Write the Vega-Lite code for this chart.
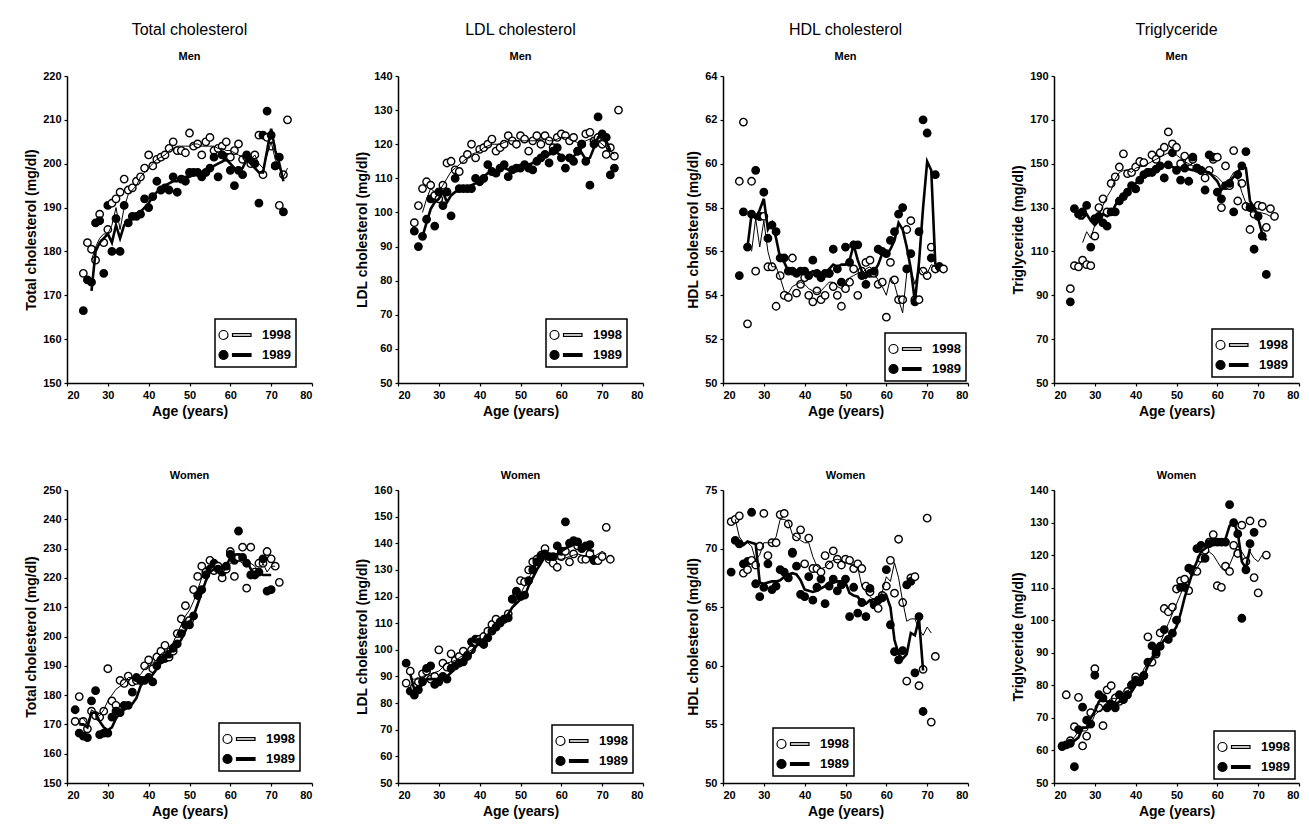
{
"$schema": "https://vega.github.io/schema/vega-lite/v6.json",
"background": "white",
"padding": {"left": 24, "top": 22, "right": 2, "bottom": 2},
"config": {
  "font": "Liberation Sans",
  "view": {"stroke": null},
  "axis": {"grid": false, "domainColor": "black", "domainWidth": 1.5, "tickColor": "black", "tickSize": 3, "tickWidth": 1.2, "labelFontSize": 11, "labelFontWeight": "bold", "labelColor": "black", "labelOverlap": false, "titleFontSize": 14, "titleFontWeight": "bold", "titleColor": "black", "labelPadding": 3},
  "title": {"fontSize": 16, "fontWeight": "normal", "color": "black", "subtitleFontSize": 11, "subtitleFontWeight": "bold", "subtitleColor": "black", "subtitlePadding": 13, "offset": 8, "anchor": "middle"},
  "legend": {"orient": "bottom-right", "offset": 10, "strokeColor": "black", "strokeWidth": 1.5, "fillColor": "white", "padding": 5, "symbolType": "M-0.3,0 A0.45,0.45 0 1,0 -1.2,0 A0.45,0.45 0 1,0 -0.3,0 Z M0.15,-0.13 L2.0,-0.13 L2.0,0.13 L0.15,0.13 Z", "symbolSize": 400, "symbolStrokeColor": "black", "symbolStrokeWidth": 1.2, "labelFontSize": 13, "labelFontWeight": "bold", "labelColor": "black", "labelOffset": 20, "rowPadding": 2}
},
"datasets": {
"tcm": [
{"a":24,"1998":175,"1989":166.5},{"a":25,"1998":182,"1989":173.5},
{"a":26,"1998":180.5,"1989":173,"L1998":178,"L1989":171},{"a":27,"1998":178,"1989":186.5,"L1998":181,"L1989":180},
{"a":28,"1998":188.5,"1989":187,"L1998":183,"L1989":182},{"a":29,"1998":182,"1989":175,"L1998":184,"L1989":183},
{"a":30,"1998":185,"1989":190.5,"L1998":184,"L1989":184},{"a":31,"1998":191,"1989":180,"L1998":186,"L1989":182},
{"a":32,"1998":192,"1989":187.5,"L1998":190,"L1989":186},{"a":33,"1998":193.5,"1989":180,"L1998":185,"L1989":183},
{"a":34,"1998":196.5,"1989":190.5,"L1998":190,"L1989":186},{"a":35,"1998":194,"1989":186.5,"L1998":193,"L1989":187},
{"a":36,"1998":194.5,"1989":188,"L1998":194,"L1989":187.5},{"a":37,"1998":196,"1989":188,"L1998":195,"L1989":188},
{"a":38,"1998":197,"1989":188.5,"L1998":197,"L1989":189},{"a":39,"1998":199,"1989":192,"L1998":198,"L1989":190},
{"a":40,"1998":202,"1989":190,"L1998":199,"L1989":191},{"a":41,"1998":199.5,"1989":192.5,"L1998":200,"L1989":192.5},
{"a":42,"1998":201,"1989":196,"L1998":201,"L1989":193.5},{"a":43,"1998":201.5,"1989":194,"L1998":201.5,"L1989":194.5},
{"a":44,"1998":202,"1989":194.5,"L1998":202,"L1989":195},{"a":45,"1998":203.5,"1989":194,"L1998":203,"L1989":195.5},
{"a":46,"1998":205,"1989":197,"L1998":203.5,"L1989":196},{"a":47,"1998":203,"1989":193.5,"L1998":204,"L1989":196},
{"a":48,"1998":203,"1989":196.5,"L1998":204,"L1989":196.5},{"a":49,"1998":202.5,"1989":196,"L1998":204,"L1989":197},
{"a":50,"1998":207,"1989":198,"L1998":204,"L1989":197},{"a":51,"1998":204,"1989":198,"L1998":204.5,"L1989":197.5},
{"a":52,"1998":204.5,"1989":198,"L1998":204.5,"L1989":198},{"a":53,"1998":202,"1989":197,"L1998":204,"L1989":198},
{"a":54,"1998":205,"1989":198,"L1998":204,"L1989":198.5},{"a":55,"1998":206,"1989":199,"L1998":204,"L1989":199},
{"a":56,"1998":203,"1989":201.5,"L1998":204,"L1989":199.5},{"a":57,"1998":203.5,"1989":197,"L1998":203.5,"L1989":200},
{"a":58,"1998":204,"1989":202,"L1998":203.5,"L1989":200.5},{"a":59,"1998":205,"1989":201.5,"L1998":203,"L1989":201},
{"a":60,"1998":201.5,"1989":198.5,"L1998":203,"L1989":200},{"a":61,"1998":203,"1989":195,"L1998":202.5,"L1989":199},
{"a":62,"1998":204.5,"1989":198.5,"L1998":202,"L1989":198},{"a":63,"1998":201,"1989":197.5,"L1998":201.5,"L1989":199},
{"a":64,"1998":201.5,"1989":202,"L1998":201,"L1989":201},{"a":65,"1998":200,"1989":201,"L1998":201,"L1989":200},
{"a":66,"1998":202,"1989":200,"L1998":202,"L1989":199},{"a":67,"1998":206.5,"1989":191,"L1998":200,"L1989":198},
{"a":68,"1998":197.5,"1989":206.5,"L1998":199,"L1989":198},{"a":69,"1998":206,"1989":212,"L1998":202,"L1989":203},
{"a":70,"1998":204,"1989":206.5,"L1998":205,"L1989":208},{"a":71,"1998":199.5,"1989":199.5,"L1998":201,"L1989":203},
{"a":72,"1998":190.5,"1989":201.5,"L1998":199,"L1989":200},{"a":73,"1998":197.5,"1989":189,"L1998":197,"L1989":196},
{"a":74,"1998":210,"L1998":199}
],
"ldlm": [
{"a":24,"1998":97,"1989":94.5},{"a":25,"1998":102,"1989":90},
{"a":26,"1998":107,"1989":93,"L1998":100,"L1989":93},{"a":27,"1998":109,"1989":98,"L1998":104,"L1989":97},
{"a":28,"1998":108,"1989":104,"L1998":107,"L1989":101},{"a":29,"1998":105,"1989":96,"L1998":106,"L1989":103},
{"a":30,"1998":104,"1989":106,"L1998":106,"L1989":104},{"a":31,"1998":108,"1989":102,"L1998":108,"L1989":106},
{"a":32,"1998":114.5,"1989":106,"L1998":110,"L1989":103},{"a":33,"1998":115,"1989":99,"L1998":112,"L1989":105},
{"a":34,"1998":112.5,"1989":110,"L1998":113,"L1989":106},{"a":35,"1998":112,"1989":107,"L1998":114,"L1989":106.5},
{"a":36,"1998":115.5,"1989":107,"L1998":115,"L1989":107},{"a":37,"1998":117,"1989":107,"L1998":116,"L1989":107.5},
{"a":38,"1998":120,"1989":107,"L1998":117,"L1989":108},{"a":39,"1998":116,"1989":110,"L1998":117.5,"L1989":108.5},
{"a":40,"1998":118.5,"1989":109,"L1998":118,"L1989":109.5},{"a":41,"1998":119,"1989":110,"L1998":119,"L1989":110.5},
{"a":42,"1998":120,"1989":114,"L1998":119.5,"L1989":111.5},{"a":43,"1998":121.5,"1989":112,"L1998":120,"L1989":112},
{"a":44,"1998":118,"1989":111.5,"L1998":120,"L1989":112},{"a":45,"1998":119,"1989":113,"L1998":120,"L1989":112.5},
{"a":46,"1998":120,"1989":114,"L1998":120.5,"L1989":113},{"a":47,"1998":122.5,"1989":110.5,"L1998":121,"L1989":112.5},
{"a":48,"1998":121,"1989":112.5,"L1998":121,"L1989":112.5},{"a":49,"1998":120,"1989":113,"L1998":121,"L1989":113},
{"a":50,"1998":122.5,"1989":113,"L1998":121,"L1989":113},{"a":51,"1998":121.5,"1989":114,"L1998":121,"L1989":113.5},
{"a":52,"1998":118,"1989":113,"L1998":121,"L1989":114},{"a":53,"1998":121,"1989":112.5,"L1998":121,"L1989":114.5},
{"a":54,"1998":122.5,"1989":115,"L1998":121,"L1989":115},{"a":55,"1998":120,"1989":116,"L1998":121.5,"L1989":116},
{"a":56,"1998":122.5,"1989":117,"L1998":121.5,"L1989":116.5},{"a":57,"1998":121,"1989":114.5,"L1998":121,"L1989":117},
{"a":58,"1998":119,"1989":118,"L1998":121,"L1989":117.5},{"a":59,"1998":122,"1989":119,"L1998":121.5,"L1989":117.5},
{"a":60,"1998":123,"1989":116,"L1998":122,"L1989":116.5},{"a":61,"1998":122.5,"1989":113,"L1998":122,"L1989":116},
{"a":62,"1998":121,"1989":116,"L1998":121.5,"L1989":116},{"a":63,"1998":122,"1989":115,"L1998":121,"L1989":116.5},
{"a":64,"1998":118,"1989":118,"L1998":120.5,"L1989":117.5},{"a":65,"1998":120,"1989":120,"L1998":120.5,"L1989":117.5},
{"a":66,"1998":123,"1989":115,"L1998":121,"L1989":115.5},{"a":67,"1998":123.5,"1989":108,"L1998":121.5,"L1989":116},
{"a":68,"1998":121,"1989":120,"L1998":121.5,"L1989":119},{"a":69,"1998":122,"1989":128,"L1998":121,"L1989":122},
{"a":70,"1998":120,"1989":123,"L1998":120,"L1989":122},{"a":71,"1998":117,"1989":122,"L1998":119,"L1989":121},
{"a":72,"1998":119,"1989":111,"L1998":118,"L1989":118},{"a":73,"1998":116.5,"1989":113,"L1998":117},
{"a":74,"1998":130}
],
"hdlm": [
{"a":24,"1998":59.2,"1989":54.9},{"a":25,"1998":61.9,"1989":57.8},
{"a":26,"1998":52.7,"1989":56.2,"L1989":56.2},{"a":27,"1998":59.2,"1989":57.7,"L1998":56.0,"L1989":57.7},
{"a":28,"1998":55.1,"1989":59.7,"L1998":57.5,"L1989":57.5},{"a":29,"1998":57.6,"1989":57.6,"L1998":56.2,"L1989":57.9},
{"a":30,"1998":57.6,"1989":58.7,"L1998":57.4,"L1989":58.4},{"a":31,"1998":55.3,"1989":56.6,"L1998":56.0,"L1989":57.0},
{"a":32,"1998":55.3,"1989":57.2,"L1998":55.3,"L1989":57.3},{"a":33,"1998":53.5,"1989":56.9,"L1998":55.3,"L1989":56.6},
{"a":34,"1998":54.9,"1989":55.7,"L1998":54.8,"L1989":55.7},{"a":35,"1998":54.0,"1989":55.7,"L1998":54.2,"L1989":55.5},
{"a":36,"1998":53.9,"1989":55.1,"L1998":54.1,"L1989":55.1},{"a":37,"1998":55.7,"1989":55.1,"L1998":54.4,"L1989":55.1},
{"a":38,"1998":54.1,"1989":55.0,"L1998":54.5,"L1989":55.0},{"a":39,"1998":54.5,"1989":55.1,"L1998":54.6,"L1989":55.0},
{"a":40,"1998":54.8,"1989":55.1,"L1998":54.5,"L1989":55.0},{"a":41,"1998":54.0,"1989":54.9,"L1998":54.3,"L1989":55.0},
{"a":42,"1998":53.7,"1989":55.6,"L1998":54.2,"L1989":55.1},{"a":43,"1998":54.2,"1989":55.0,"L1998":54.1,"L1989":55.0},
{"a":44,"1998":53.8,"1989":54.8,"L1998":54.2,"L1989":55.0},{"a":45,"1998":54.0,"1989":55.0,"L1998":54.4,"L1989":55.0},
{"a":46,"1998":55.0,"1989":55.0,"L1998":54.6,"L1989":55.2},{"a":47,"1998":54.4,"1989":56.1,"L1998":54.6,"L1989":55.4},
{"a":48,"1998":54.0,"1989":55.2,"L1998":54.4,"L1989":55.3},{"a":49,"1998":53.5,"1989":54.6,"L1998":54.3,"L1989":55.4},
{"a":50,"1998":54.3,"1989":56.2,"L1998":54.5,"L1989":55.4},{"a":51,"1998":54.6,"1989":55.5,"L1998":54.8,"L1989":55.6},
{"a":52,"1998":55.2,"1989":56.3,"L1998":54.9,"L1989":56.3},{"a":53,"1998":54.0,"1989":56.3,"L1998":55.0,"L1989":55.6},
{"a":54,"1998":55.1,"1989":54.9,"L1998":55.0,"L1989":55.1},{"a":55,"1998":55.5,"1989":54.5,"L1998":55.2,"L1989":54.8},
{"a":56,"1998":55.6,"1989":55.0,"L1998":55.3,"L1989":55.0},{"a":57,"1998":55.0,"1989":55.1,"L1998":55.0,"L1989":55.1},
{"a":58,"1998":54.5,"1989":56.1,"L1998":54.7,"L1989":55.4},{"a":59,"1998":54.6,"1989":56.0,"L1998":54.4,"L1989":55.9},
{"a":60,"1998":53.0,"1989":55.9,"L1998":54.0,"L1989":55.8},{"a":61,"1998":55.5,"1989":56.5,"L1998":54.8,"L1989":56.1},
{"a":62,"1998":54.7,"1989":56.9,"L1998":54.5,"L1989":56.5},{"a":63,"1998":53.8,"1989":57.7,"L1998":53.8,"L1989":57.3},
{"a":64,"1998":53.8,"1989":58.0,"L1998":53.2,"L1989":57.0},{"a":65,"1998":57.0,"1989":55.2,"L1998":55.0,"L1989":56.2},
{"a":66,"1998":57.4,"1989":55.9,"L1998":55.2,"L1989":55.2},{"a":67,"1998":53.8,"1989":53.7,"L1998":54.5,"L1989":53.7},
{"a":68,"1998":53.8,"1989":56.9,"L1998":55.3,"L1989":55.5},{"a":69,"1998":55.1,"1989":62.0,"L1998":55.0,"L1989":58.0},
{"a":70,"1998":54.9,"1989":61.4,"L1998":55.0,"L1989":60.1},{"a":71,"1998":56.2,"1989":55.7,"L1998":55.4,"L1989":59.7},
{"a":72,"1998":55.2,"1989":59.5,"L1998":55.3,"L1989":55.4},{"a":73,"1998":55.3,"1989":55.3},
{"a":74,"1998":55.2}
],
"tgm": [
{"a":24,"1998":93,"1989":87},{"a":25,"1998":103.5,"1989":129.5},
{"a":26,"1998":103,"1989":127,"L1989":125},{"a":27,"1998":106,"1989":128,"L1998":114,"L1989":125},
{"a":28,"1998":104,"1989":131,"L1998":119,"L1989":127},{"a":29,"1998":103.5,"1989":112,"L1998":116,"L1989":124},
{"a":30,"1998":117,"1989":125,"L1998":122,"L1989":122},{"a":31,"1998":130,"1989":126,"L1998":126,"L1989":124},
{"a":32,"1998":134,"1989":123,"L1998":131,"L1989":127},{"a":33,"1998":128,"1989":121.5,"L1998":135,"L1989":126},
{"a":34,"1998":141,"1989":128,"L1998":138,"L1989":127},{"a":35,"1998":144,"1989":128,"L1998":143,"L1989":131},
{"a":36,"1998":148.5,"1989":133,"L1998":146,"L1989":134},{"a":37,"1998":154.5,"1989":135,"L1998":147,"L1989":136},
{"a":38,"1998":145.5,"1989":137,"L1998":147,"L1989":138},{"a":39,"1998":146,"1989":140,"L1998":146,"L1989":139.5},
{"a":40,"1998":148.5,"1989":138.5,"L1998":148,"L1989":141},{"a":41,"1998":151,"1989":142.5,"L1998":148.5,"L1989":143},
{"a":42,"1998":150.5,"1989":145,"L1998":149,"L1989":145},{"a":43,"1998":146,"1989":146,"L1998":150,"L1989":146},
{"a":44,"1998":154,"1989":146,"L1998":151,"L1989":147},{"a":45,"1998":152,"1989":147.5,"L1998":152,"L1989":148},
{"a":46,"1998":155,"1989":149,"L1998":153,"L1989":149},{"a":47,"1998":157.5,"1989":143.5,"L1998":154,"L1989":149},
{"a":48,"1998":164.5,"1989":149.5,"L1998":155,"L1989":149},{"a":49,"1998":159,"1989":155,"L1998":154.5,"L1989":148.5},
{"a":50,"1998":157.5,"1989":147,"L1998":154,"L1989":148},{"a":51,"1998":150,"1989":142.5,"L1998":152.5,"L1989":148},
{"a":52,"1998":153.5,"1989":148,"L1998":151,"L1989":148},{"a":53,"1998":151,"1989":142,"L1998":150,"L1989":147.5},
{"a":54,"1998":152,"1989":153,"L1998":149,"L1989":147},{"a":55,"1998":148,"1989":148,"L1998":148.5,"L1989":147},
{"a":56,"1998":147,"1989":147,"L1998":148,"L1989":147},{"a":57,"1998":143.5,"1989":138,"L1998":147,"L1989":146.5},
{"a":58,"1998":147,"1989":154,"L1998":146,"L1989":146},{"a":59,"1998":152,"1989":153,"L1998":145,"L1989":144},
{"a":60,"1998":153,"1989":137,"L1998":144,"L1989":142},{"a":61,"1998":130,"1989":134,"L1998":142,"L1989":138},
{"a":62,"1998":149,"1989":140,"L1998":140,"L1989":140},{"a":63,"1998":140,"1989":141,"L1998":143,"L1989":142},
{"a":64,"1998":156,"1989":128,"L1998":146,"L1989":144},{"a":65,"1998":133,"1989":145,"L1998":143,"L1989":146},
{"a":66,"1998":141,"1989":149,"L1998":137,"L1989":149},{"a":67,"1998":130.5,"1989":155.5,"L1998":132,"L1989":148},
{"a":68,"1998":120,"1989":130,"L1998":128,"L1989":133},{"a":69,"1998":127,"1989":111,"L1998":128,"L1989":130},
{"a":70,"1998":131,"1989":126,"L1998":128,"L1989":125},{"a":71,"1998":130.5,"1989":117,"L1998":127.5,"L1989":118},
{"a":72,"1998":121,"1989":99.5,"L1998":127,"L1989":115},{"a":73,"1998":129.5,"L1998":126},
{"a":74,"1998":126}
],
"tcw": [
{"a":22,"1998":171,"1989":175},{"a":23,"1998":179.5,"1989":167,"L1998":172,"L1989":170},
{"a":24,"1998":171,"1989":166,"L1998":172,"L1989":170},{"a":25,"1998":168.5,"1989":165.5,"L1998":170,"L1989":169},
{"a":26,"1998":174.5,"1989":178,"L1998":175,"L1989":174},{"a":27,"1998":173,"1989":181.5,"L1998":174,"L1989":174},
{"a":28,"1998":172.5,"1989":166.5,"L1998":173,"L1989":171},{"a":29,"1998":174.5,"1989":167,"L1998":175,"L1989":169},
{"a":30,"1998":189,"1989":167,"L1998":178,"L1989":168},{"a":31,"1998":178,"1989":172.5,"L1998":180,"L1989":169},
{"a":32,"1998":176.5,"1989":174.5,"L1998":182,"L1989":172},{"a":33,"1998":185,"1989":174,"L1998":183,"L1989":174},
{"a":34,"1998":184,"1989":176.5,"L1998":184,"L1989":175},{"a":35,"1998":186.5,"1989":176.5,"L1998":186,"L1989":176},
{"a":36,"1998":184.5,"1989":181,"L1998":186,"L1989":177},{"a":37,"1998":185,"1989":186,"L1998":186,"L1989":179},
{"a":38,"1998":185,"1989":185,"L1998":187,"L1989":183},{"a":39,"1998":190,"1989":185,"L1998":189,"L1989":185},
{"a":40,"1998":192,"1989":186,"L1998":190,"L1989":186},{"a":41,"1998":189,"1989":184.5,"L1998":191,"L1989":187},
{"a":42,"1998":193,"1989":190,"L1998":192,"L1989":189},{"a":43,"1998":195,"1989":192,"L1998":194,"L1989":191},
{"a":44,"1998":197,"1989":192.5,"L1998":195,"L1989":192},{"a":45,"1998":193,"1989":194,"L1998":196,"L1989":194},
{"a":46,"1998":195,"1989":196,"L1998":198,"L1989":196},{"a":47,"1998":201,"1989":197.5,"L1998":201,"L1989":197},
{"a":48,"1998":206,"1989":201,"L1998":204,"L1989":199},{"a":49,"1998":210.5,"1989":204,"L1998":207,"L1989":202},
{"a":50,"1998":205.5,"1989":204,"L1998":209,"L1989":205},{"a":51,"1998":216,"1989":207,"L1998":212,"L1989":207},
{"a":52,"1998":220.5,"1989":214,"L1998":216,"L1989":211},{"a":53,"1998":224,"1989":216,"L1998":220,"L1989":215},
{"a":54,"1998":222,"1989":221,"L1998":222,"L1989":219},{"a":55,"1998":226,"1989":223,"L1998":223,"L1989":222},
{"a":56,"1998":222.5,"1989":225,"L1998":224,"L1989":223},{"a":57,"1998":224,"1989":223,"L1998":223,"L1989":223},
{"a":58,"1998":220,"1989":222,"L1998":222,"L1989":223},{"a":59,"1998":223,"1989":224,"L1998":223,"L1989":224},
{"a":60,"1998":229,"1989":228,"L1998":225,"L1989":227},{"a":61,"1998":220.5,"1989":226,"L1998":226,"L1989":228},
{"a":62,"1998":227,"1989":236,"L1998":226,"L1989":228},{"a":63,"1998":230.5,"1989":227,"L1998":225,"L1989":227},
{"a":64,"1998":216.5,"1989":225,"L1998":226,"L1989":226},{"a":65,"1998":230.5,"1989":221,"L1998":225,"L1989":223},
{"a":66,"1998":222,"1989":221,"L1998":224,"L1989":221},{"a":67,"1998":225,"1989":222,"L1998":222,"L1989":222},
{"a":68,"1998":225,"1989":226.5,"L1998":225,"L1989":221},{"a":69,"1998":229,"1989":215.5,"L1998":222,"L1989":221},
{"a":70,"1998":226.5,"1989":216,"L1998":224,"L1989":221},{"a":71,"1998":224,"L1998":224},
{"a":72,"1998":218.5}
],
"ldlw": [
{"a":22,"1998":87.5,"1989":95},{"a":23,"1998":92,"1989":84.5,"L1998":89,"L1989":91},
{"a":24,"1998":86,"1989":83,"L1998":89,"L1989":85},{"a":25,"1998":88,"1989":85,"L1998":89,"L1989":85},
{"a":26,"1998":91,"1989":88,"L1998":90,"L1989":87},{"a":27,"1998":92,"1989":93,"L1998":90.5,"L1989":89},
{"a":28,"1998":89,"1989":94,"L1998":91,"L1989":89},{"a":29,"1998":90,"1989":87,"L1998":91.5,"L1989":89},
{"a":30,"1998":100,"1989":88,"L1998":92,"L1989":89},{"a":31,"1998":95,"1989":90,"L1998":93.5,"L1989":89},
{"a":32,"1998":93.5,"1989":89,"L1998":95,"L1989":90},{"a":33,"1998":98.5,"1989":93,"L1998":95.5,"L1989":91.5},
{"a":34,"1998":96,"1989":94,"L1998":96,"L1989":93},{"a":35,"1998":97.5,"1989":95,"L1998":97,"L1989":94},
{"a":36,"1998":99.5,"1989":95.5,"L1998":98,"L1989":95},{"a":37,"1998":98,"1989":97.5,"L1998":99,"L1989":97},
{"a":38,"1998":100,"1989":103,"L1998":100,"L1989":99},{"a":39,"1998":103,"1989":104,"L1998":101.5,"L1989":101},
{"a":40,"1998":104,"1989":103,"L1998":103,"L1989":103},{"a":41,"1998":105,"1989":102,"L1998":104.5,"L1989":104},
{"a":42,"1998":107,"1989":104.5,"L1998":106,"L1989":105},{"a":43,"1998":109.5,"1989":107,"L1998":107.5,"L1989":106.5},
{"a":44,"1998":111.5,"1989":108.5,"L1998":109,"L1989":108},{"a":45,"1998":110.5,"1989":110,"L1998":110,"L1989":109.5},
{"a":46,"1998":111.5,"1989":111.5,"L1998":111,"L1989":111},{"a":47,"1998":113.5,"1989":112,"L1998":113.5,"L1989":113.5},
{"a":48,"1998":119,"1989":119,"L1998":116,"L1989":116},{"a":49,"1998":121.5,"1989":122,"L1998":118.5,"L1989":117.5},
{"a":50,"1998":126,"1989":120,"L1998":121,"L1989":119},{"a":51,"1998":125.5,"1989":120.5,"L1998":124,"L1989":120},
{"a":52,"1998":130,"1989":126,"L1998":127,"L1989":124},{"a":53,"1998":133,"1989":130,"L1998":129.5,"L1989":127},
{"a":54,"1998":134,"1989":133,"L1998":132,"L1989":130},{"a":55,"1998":135.5,"1989":135,"L1998":133.5,"L1989":132.5},
{"a":56,"1998":138,"1989":136,"L1998":135,"L1989":135},{"a":57,"1998":134,"1989":135,"L1998":134.5,"L1989":135},
{"a":58,"1998":132.5,"1989":135,"L1998":134,"L1989":135},{"a":59,"1998":131,"1989":139,"L1998":134,"L1989":136},
{"a":60,"1998":135,"1989":137,"L1998":134,"L1989":137},{"a":61,"1998":137,"1989":148,"L1998":134.5,"L1989":138},
{"a":62,"1998":133,"1989":140,"L1998":135,"L1989":139},{"a":63,"1998":136,"1989":141,"L1998":135.5,"L1989":139.5},
{"a":64,"1998":139,"1989":140.5,"L1998":136,"L1989":140},{"a":65,"1998":134,"1989":138,"L1998":135.5,"L1989":139},
{"a":66,"1998":134,"1989":139,"L1998":135,"L1989":138},{"a":67,"1998":136,"1989":139.5,"L1998":135,"L1989":137.5},
{"a":68,"1998":134,"1989":133.5,"L1998":135,"L1989":137},{"a":69,"1998":133.5,"L1998":136},
{"a":70,"1998":135,"L1998":137},{"a":71,"1998":146,"L1998":136},
{"a":72,"1998":134}
],
"hdlw": [
{"a":22,"1998":72.3,"1989":68.0},{"a":23,"1998":72.5,"1989":70.7,"L1998":72.5,"L1989":70.8},
{"a":24,"1998":72.8,"1989":70.4,"L1998":71,"L1989":70.4},{"a":25,"1998":67.9,"1989":68.7,"L1998":70.5,"L1989":70.3},
{"a":26,"1998":68.2,"1989":68.9,"L1998":70.5,"L1989":70.6},{"a":27,"1998":69.0,"1989":73.1,"L1998":70.2,"L1989":70.5},
{"a":28,"1998":68.6,"1989":67.0,"L1998":69,"L1989":70.4},{"a":29,"1998":70.2,"1989":65.9,"L1998":69.5,"L1989":67.1},
{"a":30,"1998":73.0,"1989":66.7,"L1998":70.5,"L1989":67.0},{"a":31,"1998":69.4,"1989":68.7,"L1998":70.5,"L1989":67.1},
{"a":32,"1998":70.5,"1989":66.5,"L1998":70.5,"L1989":67.2},{"a":33,"1998":70.5,"1989":66.8,"L1998":71,"L1989":67.2},
{"a":34,"1998":72.9,"1989":68.2,"L1998":72.5,"L1989":67.3},{"a":35,"1998":73.0,"1989":68.0,"L1998":72.5,"L1989":67.6},
{"a":36,"1998":72.1,"1989":67.5,"L1998":72.3,"L1989":67.8},{"a":37,"1998":69.7,"1989":69.6,"L1998":71.2,"L1989":67.9},
{"a":38,"1998":71.0,"1989":68.5,"L1998":71,"L1989":67.8},{"a":39,"1998":71.6,"1989":66.1,"L1998":70.7,"L1989":67.3},
{"a":40,"1998":68.7,"1989":65.9,"L1998":70.5,"L1989":66.5},{"a":41,"1998":70.9,"1989":67.6,"L1998":70.5,"L1989":66.4},
{"a":42,"1998":68.3,"1989":65.6,"L1998":69.3,"L1989":66.3},{"a":43,"1998":68.3,"1989":66.7,"L1998":68.5,"L1989":66.4},
{"a":44,"1998":68.0,"1989":67.4,"L1998":68.3,"L1989":66.6},{"a":45,"1998":69.4,"1989":65.3,"L1998":68.4,"L1989":66.8},
{"a":46,"1998":68.6,"1989":66.8,"L1998":68.8,"L1989":67.1},{"a":47,"1998":69.8,"1989":67.4,"L1998":69,"L1989":67.1},
{"a":48,"1998":69.1,"1989":66.4,"L1998":69.1,"L1989":67.2},{"a":49,"1998":68.6,"1989":66.9,"L1998":69,"L1989":67.2},
{"a":50,"1998":69.1,"1989":67.4,"L1998":68.8,"L1989":67.1},{"a":51,"1998":69.0,"1989":64.2,"L1998":68.7,"L1989":66.2},
{"a":52,"1998":68.3,"1989":66.7,"L1998":68.5,"L1989":66.0},{"a":53,"1998":68.7,"1989":64.5,"L1998":68.4,"L1989":65.9},
{"a":54,"1998":68.3,"1989":65.4,"L1998":66.8,"L1989":65.4},{"a":55,"1998":66.8,"1989":64.2,"L1998":66.3,"L1989":65.3},
{"a":56,"1998":66.3,"1989":66.6,"L1998":65.9,"L1989":65.6},{"a":57,"1998":65.4,"1989":65.2,"L1998":65.6,"L1989":65.4},
{"a":58,"1998":64.9,"1989":65.6,"L1998":65.7,"L1989":65.7},{"a":59,"1998":66.0,"1989":65.8,"L1998":66.3,"L1989":65.6},
{"a":60,"1998":66.8,"1989":68.2,"L1998":67.6,"L1989":66.0},{"a":61,"1998":69.0,"1989":63.5,"L1998":67.2,"L1989":65.0},
{"a":62,"1998":66.2,"1989":61.2,"L1998":68.8,"L1989":62.2},{"a":63,"1998":70.8,"1989":60.5,"L1998":67.5,"L1989":61.0},
{"a":64,"1998":65.4,"1989":61.3,"L1998":65.5,"L1989":60.6},{"a":65,"1998":58.7,"1989":66.9,"L1998":63.8,"L1989":61.0},
{"a":66,"1998":67.5,"1989":67.2,"L1998":64.0,"L1989":62.8},{"a":67,"1998":67.6,"1989":59.4,"L1998":64.0,"L1989":62.6},
{"a":68,"1998":58.3,"1989":64.2,"L1998":63.1,"L1989":64.0},{"a":69,"1998":59.7,"1989":56.1,"L1998":62.6,"L1989":59.6},
{"a":70,"1998":72.6,"L1998":63.3},{"a":71,"1998":55.2,"L1998":62.8},
{"a":72,"1998":60.8}
],
"tgw": [
{"a":22,"1998":61.4,"1989":61.2},{"a":23,"1998":77.1,"1989":61.7,"L1998":62,"L1989":62},
{"a":24,"1998":63,"1989":62.2,"L1998":63,"L1989":62},{"a":25,"1998":67.3,"1989":55,"L1998":64,"L1989":63},
{"a":26,"1998":76.3,"1989":66.4,"L1998":66,"L1989":64},{"a":27,"1998":61.4,"1989":73.3,"L1998":66,"L1989":67},
{"a":28,"1998":64.4,"1989":69.3,"L1998":66,"L1989":67},{"a":29,"1998":71.6,"1989":68.1,"L1998":68,"L1989":70},
{"a":30,"1998":85.1,"1989":83.1,"L1998":71,"L1989":72},{"a":31,"1998":73.1,"1989":77.1,"L1998":72,"L1989":75},
{"a":32,"1998":67.6,"1989":76.1,"L1998":73,"L1989":76},{"a":33,"1998":78.6,"1989":73.1,"L1998":75,"L1989":75},
{"a":34,"1998":79.9,"1989":74.3,"L1998":76,"L1989":74},{"a":35,"1998":76.1,"1989":73.1,"L1998":76,"L1989":74},
{"a":36,"1998":75.1,"1989":77.1,"L1998":76,"L1989":75},{"a":37,"1998":76,"1989":75.6,"L1998":77,"L1989":76},
{"a":38,"1998":78.1,"1989":77.1,"L1998":78,"L1989":77},{"a":39,"1998":80.1,"1989":80.1,"L1998":80,"L1989":78},
{"a":40,"1998":82.6,"1989":81.6,"L1998":81,"L1989":80},{"a":41,"1998":81.3,"1989":81,"L1998":82,"L1989":81},
{"a":42,"1998":83,"1989":83,"L1998":85,"L1989":83},{"a":43,"1998":94.9,"1989":87.1,"L1998":87,"L1989":86},
{"a":44,"1998":87.1,"1989":92.1,"L1998":89,"L1989":88},{"a":45,"1998":89.6,"1989":90.1,"L1998":91,"L1989":90},
{"a":46,"1998":96.1,"1989":92,"L1998":93,"L1989":92},{"a":47,"1998":103.6,"1989":97.1,"L1998":96,"L1989":94},
{"a":48,"1998":102.6,"1989":94.1,"L1998":99,"L1989":95},{"a":49,"1998":104,"1989":96,"L1998":102,"L1989":96},
{"a":50,"1998":109.6,"1989":100,"L1998":105,"L1989":98},{"a":51,"1998":112.1,"1989":110.1,"L1998":108,"L1989":102},
{"a":52,"1998":112.6,"1989":110.1,"L1998":111,"L1989":107},{"a":53,"1998":109.1,"1989":116,"L1998":112,"L1989":111},
{"a":54,"1998":115,"1989":115.5,"L1998":114,"L1989":115},{"a":55,"1998":115,"1989":122,"L1998":116,"L1989":118},
{"a":56,"1998":119,"1989":123,"L1998":118,"L1989":121},{"a":57,"1998":121.5,"1989":119,"L1998":120,"L1989":122},
{"a":58,"1998":124,"1989":123.5,"L1998":121,"L1989":123},{"a":59,"1998":126.3,"1989":124,"L1998":120,"L1989":124},
{"a":60,"1998":110.6,"1989":124,"L1998":118,"L1989":124},{"a":61,"1998":110.1,"1989":124,"L1998":116,"L1989":124},
{"a":62,"1998":116.6,"1989":124,"L1998":115,"L1989":125},{"a":63,"1998":115,"1989":135.5,"L1998":117,"L1989":129},
{"a":64,"1998":123,"1989":130,"L1998":120,"L1989":130},{"a":65,"1998":120.5,"1989":126.5,"L1998":123,"L1989":127},
{"a":66,"1998":129.2,"1989":100.6,"L1998":121,"L1989":118},{"a":67,"1998":118,"1989":115.5,"L1998":119,"L1989":116},
{"a":68,"1998":130.5,"1989":123.5,"L1998":121,"L1989":122},{"a":69,"1998":113.1,"1989":127,"L1998":119},
{"a":70,"1998":108.4,"L1998":118},{"a":71,"1998":129.8,"L1998":120},
{"a":72,"1998":120}
]
},
"vconcat": [
{
"hconcat": [
{"width": 245, "height": 307, "title": {"text": "Total cholesterol", "subtitle": "Men"}, "data": {"name": "tcm"},
 "encoding": {
  "x": {"field": "a", "type": "quantitative", "scale": {"domain": [20,80], "nice": false, "zero": false}, "axis": {"values": [20,30,40,50,60,70,80], "title": "Age (years)"}},
  "y": {"field": "v", "type": "quantitative", "scale": {"domain": [150,220], "nice": false, "zero": false}, "axis": {"values": [150,160,170,180,190,200,210,220], "title": "Total cholesterol (mg/dl)"}}},
 "layer": [
  {"transform": [{"fold": ["1998","1989"], "as": ["yr","v"]}, {"filter": "isValid(datum.v)"}],
   "mark": {"type": "point", "filled": true, "size": 55, "stroke": "black", "strokeWidth": 1.4, "opacity": 1},
   "encoding": {"fill": {"field": "yr", "type": "nominal", "scale": {"domain": ["1998","1989"], "range": ["white","black"]}, "legend": {"title": null, "offset": 16}}}},
  {"transform": [{"fold": ["L1998","L1989"], "as": ["ly","v"]}, {"filter": "isValid(datum.v)"}],
   "mark": {"type": "line", "color": "black"},
   "encoding": {"detail": {"field": "ly", "type": "nominal"}, "strokeWidth": {"field": "ly", "type": "nominal", "scale": {"domain": ["L1998","L1989"], "range": [1, 2.6]}, "legend": null}}}
 ]},
{"width": 245, "height": 307, "title": {"text": "LDL cholesterol", "subtitle": "Men"}, "data": {"name": "ldlm"},
 "encoding": {
  "x": {"field": "a", "type": "quantitative", "scale": {"domain": [20,80], "nice": false, "zero": false}, "axis": {"values": [20,30,40,50,60,70,80], "title": "Age (years)"}},
  "y": {"field": "v", "type": "quantitative", "scale": {"domain": [50,140], "nice": false, "zero": false}, "axis": {"values": [50,60,70,80,90,100,110,120,130,140], "title": "LDL cholesterol (mg/dl)"}}},
 "layer": [
  {"transform": [{"fold": ["1998","1989"], "as": ["yr","v"]}, {"filter": "isValid(datum.v)"}],
   "mark": {"type": "point", "filled": true, "size": 55, "stroke": "black", "strokeWidth": 1.4, "opacity": 1},
   "encoding": {"fill": {"field": "yr", "type": "nominal", "scale": {"domain": ["1998","1989"], "range": ["white","black"]}, "legend": {"title": null, "offset": 16}}}},
  {"transform": [{"fold": ["L1998","L1989"], "as": ["ly","v"]}, {"filter": "isValid(datum.v)"}],
   "mark": {"type": "line", "color": "black"},
   "encoding": {"detail": {"field": "ly", "type": "nominal"}, "strokeWidth": {"field": "ly", "type": "nominal", "scale": {"domain": ["L1998","L1989"], "range": [1, 2.6]}, "legend": null}}}
 ]},
{"width": 245, "height": 307, "title": {"text": "HDL cholesterol", "subtitle": "Men"}, "data": {"name": "hdlm"},
 "encoding": {
  "x": {"field": "a", "type": "quantitative", "scale": {"domain": [20,80], "nice": false, "zero": false}, "axis": {"values": [20,30,40,50,60,70,80], "title": "Age (years)"}},
  "y": {"field": "v", "type": "quantitative", "scale": {"domain": [50,64], "nice": false, "zero": false}, "axis": {"values": [50,52,54,56,58,60,62,64], "title": "HDL cholesterol (mg/dl)"}}},
 "layer": [
  {"transform": [{"fold": ["1998","1989"], "as": ["yr","v"]}, {"filter": "isValid(datum.v)"}],
   "mark": {"type": "point", "filled": true, "size": 55, "stroke": "black", "strokeWidth": 1.4, "opacity": 1},
   "encoding": {"fill": {"field": "yr", "type": "nominal", "scale": {"domain": ["1998","1989"], "range": ["white","black"]}, "legend": {"title": null, "offset": 2}}}},
  {"transform": [{"fold": ["L1998","L1989"], "as": ["ly","v"]}, {"filter": "isValid(datum.v)"}],
   "mark": {"type": "line", "color": "black"},
   "encoding": {"detail": {"field": "ly", "type": "nominal"}, "strokeWidth": {"field": "ly", "type": "nominal", "scale": {"domain": ["L1998","L1989"], "range": [1, 2.6]}, "legend": null}}}
 ]},
{"width": 245, "height": 307, "title": {"text": "Triglyceride", "subtitle": "Men"}, "data": {"name": "tgm"},
 "encoding": {
  "x": {"field": "a", "type": "quantitative", "scale": {"domain": [20,80], "nice": false, "zero": false}, "axis": {"values": [20,30,40,50,60,70,80], "title": "Age (years)"}},
  "y": {"field": "v", "type": "quantitative", "scale": {"domain": [50,190], "nice": false, "zero": false}, "axis": {"values": [50,70,90,110,130,150,170,190], "title": "Triglyceride (mg/dl)"}}},
 "layer": [
  {"transform": [{"fold": ["1998","1989"], "as": ["yr","v"]}, {"filter": "isValid(datum.v)"}],
   "mark": {"type": "point", "filled": true, "size": 55, "stroke": "black", "strokeWidth": 1.4, "opacity": 1},
   "encoding": {"fill": {"field": "yr", "type": "nominal", "scale": {"domain": ["1998","1989"], "range": ["white","black"]}, "legend": {"title": null, "offset": 6}}}},
  {"transform": [{"fold": ["L1998","L1989"], "as": ["ly","v"]}, {"filter": "isValid(datum.v)"}],
   "mark": {"type": "line", "color": "black"},
   "encoding": {"detail": {"field": "ly", "type": "nominal"}, "strokeWidth": {"field": "ly", "type": "nominal", "scale": {"domain": ["L1998","L1989"], "range": [1, 2.6]}, "legend": null}}}
 ]}
],
"spacing": 42,
"resolve": {"scale": {"fill": "independent", "strokeWidth": "independent"}, "legend": {"fill": "independent", "strokeWidth": "independent"}}
},
{
"hconcat": [
{"width": 245, "height": 293, "title": {"text": "Women", "fontSize": 11, "fontWeight": "bold", "offset": 3}, "data": {"name": "tcw"},
 "encoding": {
  "x": {"field": "a", "type": "quantitative", "scale": {"domain": [20,80], "nice": false, "zero": false}, "axis": {"values": [20,30,40,50,60,70,80], "title": "Age (years)"}},
  "y": {"field": "v", "type": "quantitative", "scale": {"domain": [150,250], "nice": false, "zero": false}, "axis": {"values": [150,160,170,180,190,200,210,220,230,240,250], "title": "Total cholesterol (mg/dl)"}}},
 "layer": [
  {"transform": [{"fold": ["1998","1989"], "as": ["yr","v"]}, {"filter": "isValid(datum.v)"}],
   "mark": {"type": "point", "filled": true, "size": 55, "stroke": "black", "strokeWidth": 1.4, "opacity": 1},
   "encoding": {"fill": {"field": "yr", "type": "nominal", "scale": {"domain": ["1998","1989"], "range": ["white","black"]}, "legend": {"title": null, "offset": 12}}}},
  {"transform": [{"fold": ["L1998","L1989"], "as": ["ly","v"]}, {"filter": "isValid(datum.v)"}],
   "mark": {"type": "line", "color": "black"},
   "encoding": {"detail": {"field": "ly", "type": "nominal"}, "strokeWidth": {"field": "ly", "type": "nominal", "scale": {"domain": ["L1998","L1989"], "range": [1, 2.6]}, "legend": null}}}
 ]},
{"width": 245, "height": 293, "title": {"text": "Women", "fontSize": 11, "fontWeight": "bold", "offset": 3}, "data": {"name": "ldlw"},
 "encoding": {
  "x": {"field": "a", "type": "quantitative", "scale": {"domain": [20,80], "nice": false, "zero": false}, "axis": {"values": [20,30,40,50,60,70,80], "title": "Age (years)"}},
  "y": {"field": "v", "type": "quantitative", "scale": {"domain": [50,160], "nice": false, "zero": false}, "axis": {"values": [50,60,70,80,90,100,110,120,130,140,150,160], "title": "LDL cholesterol (mg/dl)"}}},
 "layer": [
  {"transform": [{"fold": ["1998","1989"], "as": ["yr","v"]}, {"filter": "isValid(datum.v)"}],
   "mark": {"type": "point", "filled": true, "size": 55, "stroke": "black", "strokeWidth": 1.4, "opacity": 1},
   "encoding": {"fill": {"field": "yr", "type": "nominal", "scale": {"domain": ["1998","1989"], "range": ["white","black"]}, "legend": {"title": null, "offset": 10}}}},
  {"transform": [{"fold": ["L1998","L1989"], "as": ["ly","v"]}, {"filter": "isValid(datum.v)"}],
   "mark": {"type": "line", "color": "black"},
   "encoding": {"detail": {"field": "ly", "type": "nominal"}, "strokeWidth": {"field": "ly", "type": "nominal", "scale": {"domain": ["L1998","L1989"], "range": [1, 2.6]}, "legend": null}}}
 ]},
{"width": 245, "height": 293, "title": {"text": "Women", "fontSize": 11, "fontWeight": "bold", "offset": 3}, "data": {"name": "hdlw"},
 "encoding": {
  "x": {"field": "a", "type": "quantitative", "scale": {"domain": [20,80], "nice": false, "zero": false}, "axis": {"values": [20,30,40,50,60,70,80], "title": "Age (years)"}},
  "y": {"field": "v", "type": "quantitative", "scale": {"domain": [50,75], "nice": false, "zero": false}, "axis": {"values": [50,55,60,65,70,75], "title": "HDL cholesterol (mg/dl)"}}},
 "layer": [
  {"transform": [{"fold": ["1998","1989"], "as": ["yr","v"]}, {"filter": "isValid(datum.v)"}],
   "mark": {"type": "point", "filled": true, "size": 55, "stroke": "black", "strokeWidth": 1.4, "opacity": 1},
   "encoding": {"fill": {"field": "yr", "type": "nominal", "scale": {"domain": ["1998","1989"], "range": ["white","black"]}, "legend": {"title": null, "orient": "none", "legendX": 50, "legendY": 238}}}},
  {"transform": [{"fold": ["L1998","L1989"], "as": ["ly","v"]}, {"filter": "isValid(datum.v)"}],
   "mark": {"type": "line", "color": "black"},
   "encoding": {"detail": {"field": "ly", "type": "nominal"}, "strokeWidth": {"field": "ly", "type": "nominal", "scale": {"domain": ["L1998","L1989"], "range": [1, 2.6]}, "legend": null}}}
 ]},
{"width": 245, "height": 293, "title": {"text": "Women", "fontSize": 11, "fontWeight": "bold", "offset": 3}, "data": {"name": "tgw"},
 "encoding": {
  "x": {"field": "a", "type": "quantitative", "scale": {"domain": [20,80], "nice": false, "zero": false}, "axis": {"values": [20,30,40,50,60,70,80], "title": "Age (years)"}},
  "y": {"field": "v", "type": "quantitative", "scale": {"domain": [50,140], "nice": false, "zero": false}, "axis": {"values": [50,60,70,80,90,100,110,120,130,140], "title": "Triglyceride (mg/dl)"}}},
 "layer": [
  {"transform": [{"fold": ["1998","1989"], "as": ["yr","v"]}, {"filter": "isValid(datum.v)"}],
   "mark": {"type": "point", "filled": true, "size": 55, "stroke": "black", "strokeWidth": 1.4, "opacity": 1},
   "encoding": {"fill": {"field": "yr", "type": "nominal", "scale": {"domain": ["1998","1989"], "range": ["white","black"]}, "legend": {"title": null, "offset": 4}}}},
  {"transform": [{"fold": ["L1998","L1989"], "as": ["ly","v"]}, {"filter": "isValid(datum.v)"}],
   "mark": {"type": "line", "color": "black"},
   "encoding": {"detail": {"field": "ly", "type": "nominal"}, "strokeWidth": {"field": "ly", "type": "nominal", "scale": {"domain": ["L1998","L1989"], "range": [1, 2.6]}, "legend": null}}}
 ]}
],
"spacing": 42,
"resolve": {"scale": {"fill": "independent", "strokeWidth": "independent"}, "legend": {"fill": "independent", "strokeWidth": "independent"}}
}
],
"spacing": 52,
"resolve": {"scale": {"fill": "independent", "strokeWidth": "independent"}, "legend": {"fill": "independent", "strokeWidth": "independent"}}
}
